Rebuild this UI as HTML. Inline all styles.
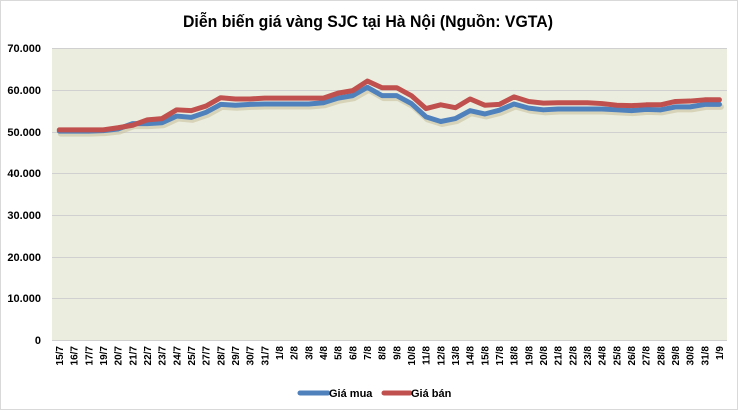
<!DOCTYPE html>
<html><head><meta charset="utf-8"><style>
body{margin:0;background:#fff;}
svg{display:block;font-family:"Liberation Sans",sans-serif;}
</style></head><body>
<svg width="738" height="410" viewBox="0 0 738 410">
<rect x="0" y="0" width="738" height="410" fill="#fff"/>
<rect x="0.5" y="0.5" width="737" height="409" fill="none" stroke="#d9d9d9"/>
<text x="368" y="27" text-anchor="middle" font-size="17" font-weight="bold" textLength="370" lengthAdjust="spacingAndGlyphs">Diễn biến giá vàng SJC tại Hà Nội (Nguồn: VGTA)</text>
<rect x="52" y="48" width="675" height="292" fill="#ebeedf"/>
<g stroke="#d0d0d0" stroke-width="1">
<line x1="52" x2="727" y1="48.5" y2="48.5"/>
<line x1="52" x2="727" y1="90.5" y2="90.5"/>
<line x1="52" x2="727" y1="132.5" y2="132.5"/>
<line x1="52" x2="727" y1="173.5" y2="173.5"/>
<line x1="52" x2="727" y1="215.5" y2="215.5"/>
<line x1="52" x2="727" y1="257.5" y2="257.5"/>
<line x1="52" x2="727" y1="298.5" y2="298.5"/>
<line x1="52" x2="727" y1="340.5" y2="340.5"/>
</g>
<g font-size="11" font-weight="bold" text-anchor="end" fill="#000">
<text x="41" y="52">70.000</text>
<text x="41" y="94">60.000</text>
<text x="41" y="136">50.000</text>
<text x="41" y="177">40.000</text>
<text x="41" y="219">30.000</text>
<text x="41" y="261">20.000</text>
<text x="41" y="302">10.000</text>
<text x="41" y="344">0</text>
</g>
<g transform="translate(59.3,340) scale(14.67,-4.17)" fill="none" stroke-linejoin="round" stroke-linecap="round">
<polyline vector-effect="non-scaling-stroke" stroke="#c9c2a0" stroke-opacity="0.6" stroke-width="6" transform="translate(0.1,-0.6)" points="0,50.1 1,50.1 2,50.1 3,50.2 4,50.6 5,51.9 6,51.9 7,52.1 8,53.7 9,53.4 10,54.6 11,56.5 12,56.3 13,56.5 14,56.6 15,56.6 16,56.6 17,56.6 18,56.9 19,58.0 20,58.6 21,60.6 22,58.6 23,58.6 24,56.7 25,53.5 26,52.4 27,53.1 28,55.0 29,54.2 30,55.1 31,56.6 32,55.6 33,55.2 34,55.4 35,55.4 36,55.4 37,55.4 38,55.2 39,55.0 40,55.3 41,55.2 42,55.9 43,55.9 44,56.5 45,56.5"/>
<polyline vector-effect="non-scaling-stroke" stroke="#4f81bd" stroke-width="5" points="0,50.1 1,50.1 2,50.1 3,50.2 4,50.6 5,51.9 6,51.9 7,52.1 8,53.7 9,53.4 10,54.6 11,56.5 12,56.3 13,56.5 14,56.6 15,56.6 16,56.6 17,56.6 18,56.9 19,58.0 20,58.6 21,60.6 22,58.6 23,58.6 24,56.7 25,53.5 26,52.4 27,53.1 28,55.0 29,54.2 30,55.1 31,56.6 32,55.6 33,55.2 34,55.4 35,55.4 36,55.4 37,55.4 38,55.2 39,55.0 40,55.3 41,55.2 42,55.9 43,55.9 44,56.5 45,56.5"/>
<polyline vector-effect="non-scaling-stroke" stroke="#c0504d" stroke-width="5" points="0,50.4 1,50.4 2,50.4 3,50.4 4,50.9 5,51.5 6,52.8 7,53.1 8,55.2 9,55.0 10,56.1 11,58.1 12,57.8 13,57.8 14,58.0 15,58.0 16,58.0 17,58.0 18,58.0 19,59.2 20,59.8 21,62.1 22,60.5 23,60.5 24,58.6 25,55.5 26,56.4 27,55.7 28,57.8 29,56.3 30,56.5 31,58.3 32,57.2 33,56.8 34,56.9 35,56.9 36,56.9 37,56.7 38,56.3 39,56.2 40,56.4 41,56.4 42,57.2 43,57.3 44,57.6 45,57.6"/>
</g>
<g font-size="10" font-weight="bold" text-anchor="end" fill="#000">
<text transform="translate(63,346) rotate(-90)">15/7</text>
<text transform="translate(77.7,346) rotate(-90)">16/7</text>
<text transform="translate(92.3,346) rotate(-90)">17/7</text>
<text transform="translate(107,346) rotate(-90)">19/7</text>
<text transform="translate(121.7,346) rotate(-90)">20/7</text>
<text transform="translate(136.3,346) rotate(-90)">21/7</text>
<text transform="translate(151,346) rotate(-90)">22/7</text>
<text transform="translate(165.7,346) rotate(-90)">23/7</text>
<text transform="translate(180.4,346) rotate(-90)">24/7</text>
<text transform="translate(195,346) rotate(-90)">25/7</text>
<text transform="translate(209.7,346) rotate(-90)">27/7</text>
<text transform="translate(224.4,346) rotate(-90)">28/7</text>
<text transform="translate(239,346) rotate(-90)">29/7</text>
<text transform="translate(253.7,346) rotate(-90)">30/7</text>
<text transform="translate(268.4,346) rotate(-90)">31/7</text>
<text transform="translate(283,346) rotate(-90)">1/8</text>
<text transform="translate(297.7,346) rotate(-90)">2/8</text>
<text transform="translate(312.4,346) rotate(-90)">3/8</text>
<text transform="translate(327,346) rotate(-90)">4/8</text>
<text transform="translate(341.7,346) rotate(-90)">5/8</text>
<text transform="translate(356.4,346) rotate(-90)">6/8</text>
<text transform="translate(371,346) rotate(-90)">7/8</text>
<text transform="translate(385.7,346) rotate(-90)">8/8</text>
<text transform="translate(400.4,346) rotate(-90)">9/8</text>
<text transform="translate(415,346) rotate(-90)">10/8</text>
<text transform="translate(429.7,346) rotate(-90)">11/8</text>
<text transform="translate(444.4,346) rotate(-90)">12/8</text>
<text transform="translate(459,346) rotate(-90)">13/8</text>
<text transform="translate(473.7,346) rotate(-90)">14/8</text>
<text transform="translate(488.4,346) rotate(-90)">15/8</text>
<text transform="translate(503,346) rotate(-90)">17/8</text>
<text transform="translate(517.7,346) rotate(-90)">18/8</text>
<text transform="translate(532.4,346) rotate(-90)">19/8</text>
<text transform="translate(547,346) rotate(-90)">20/8</text>
<text transform="translate(561.7,346) rotate(-90)">21/8</text>
<text transform="translate(576.4,346) rotate(-90)">22/8</text>
<text transform="translate(591,346) rotate(-90)">23/8</text>
<text transform="translate(605.7,346) rotate(-90)">24/8</text>
<text transform="translate(620.4,346) rotate(-90)">25/8</text>
<text transform="translate(635,346) rotate(-90)">26/8</text>
<text transform="translate(649.7,346) rotate(-90)">27/8</text>
<text transform="translate(664.4,346) rotate(-90)">28/8</text>
<text transform="translate(679,346) rotate(-90)">29/8</text>
<text transform="translate(693.7,346) rotate(-90)">30/8</text>
<text transform="translate(708.4,346) rotate(-90)">31/8</text>
<text transform="translate(723,346) rotate(-90)">1/9</text>
</g>
<line x1="300" x2="328" y1="393" y2="393" stroke="#4f81bd" stroke-width="5" stroke-linecap="round"/>
<text x="329" y="397" font-size="11" font-weight="bold">Giá mua</text>
<line x1="384" x2="410" y1="393" y2="393" stroke="#c0504d" stroke-width="5" stroke-linecap="round"/>
<text x="411" y="397" font-size="11" font-weight="bold">Giá bán</text>
</svg>
</body></html>
